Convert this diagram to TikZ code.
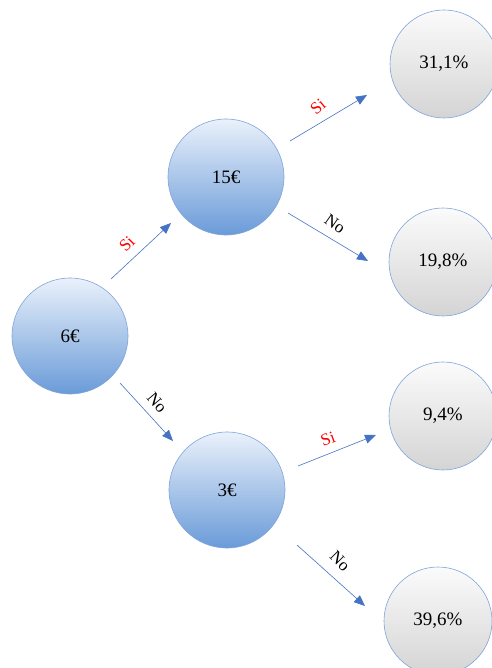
\documentclass[tikz,border=0pt]{standalone}
\usepackage{fontspec}
\setmainfont{Liberation Serif}
\usetikzlibrary{arrows.meta}
\definecolor{edgeblue}{HTML}{4472C4}
\definecolor{ringblue}{HTML}{7FA4DA}
\definecolor{topblue}{HTML}{EAF1FB}
\definecolor{botblue}{HTML}{6A9BD8}
\definecolor{topgray}{HTML}{FBFBFB}
\definecolor{botgray}{HTML}{D4D4D4}
\tikzset{
  decision/.style={circle, minimum size=116pt, inner sep=0pt, draw=ringblue, line width=0.6pt,
    top color=topblue, bottom color=botblue, font=\fontsize{19}{22}\selectfont},
  outcome/.style={circle, minimum size=108pt, inner sep=0pt, draw=ringblue, line width=0.6pt,
    top color=topgray, bottom color=botgray, font=\fontsize{19}{22}\selectfont},
  arr/.style={draw=edgeblue, line width=0.6pt, -{Triangle[length=11pt,width=9pt]}},
  yeslbl/.style={text=red, font=\fontsize{17}{20}\selectfont, inner sep=0pt},
  nolbl/.style={text=black, font=\fontsize{17}{20}\selectfont, inner sep=0pt}
}
\begin{document}
\begin{tikzpicture}[x=1pt, y=-1pt]
\useasboundingbox (0,0) rectangle (491,668);
% decision nodes
\node[decision] (six) at (70,336) {6€};
\node[decision] (fifteen) at (226,177) {15€};
\node[decision] (three) at (227,490) {3€};
% outcome nodes
\node[outcome] (p1) at (444,64) {31,1\%};
\node[outcome] (p2) at (443,262) {19,8\%};
\node[outcome] (p3) at (443,416) {9,4\%};
\node[outcome] (p4) at (438,621) {39,6\%};
% branches
\draw[arr] ([shift={(41,-57)}]six.center) -- ([shift={(-55,46)}]fifteen.center);
\draw[arr] ([shift={(50,47)}]six.center) -- ([shift={(-54,-49)}]three.center);
\draw[arr] ([shift={(64,-36)}]fifteen.center) -- ([shift={(-77,31)}]p1.center);
\draw[arr] ([shift={(62,36)}]fifteen.center) -- ([shift={(-75,-1)}]p2.center);
\draw[arr] ([shift={(71,-24)}]three.center) -- ([shift={(-67,19)}]p3.center);
\draw[arr] ([shift={(70,55)}]three.center) -- ([shift={(-73,-15)}]p4.center);
% branch labels
\node[yeslbl, rotate=45] (l1) at (127,244) {Si};
\node[nolbl, rotate=-50] (l2) at (157,403) {No};
\node[yeslbl, rotate=40] (l3) at (318,107) {Si};
\node[nolbl, rotate=-35] (l4) at (335,224) {No};
\node[yeslbl, rotate=20] (l5) at (328,439) {Si};
\node[nolbl, rotate=-45] (l6) at (340,561) {No};
\end{tikzpicture}
\end{document}
